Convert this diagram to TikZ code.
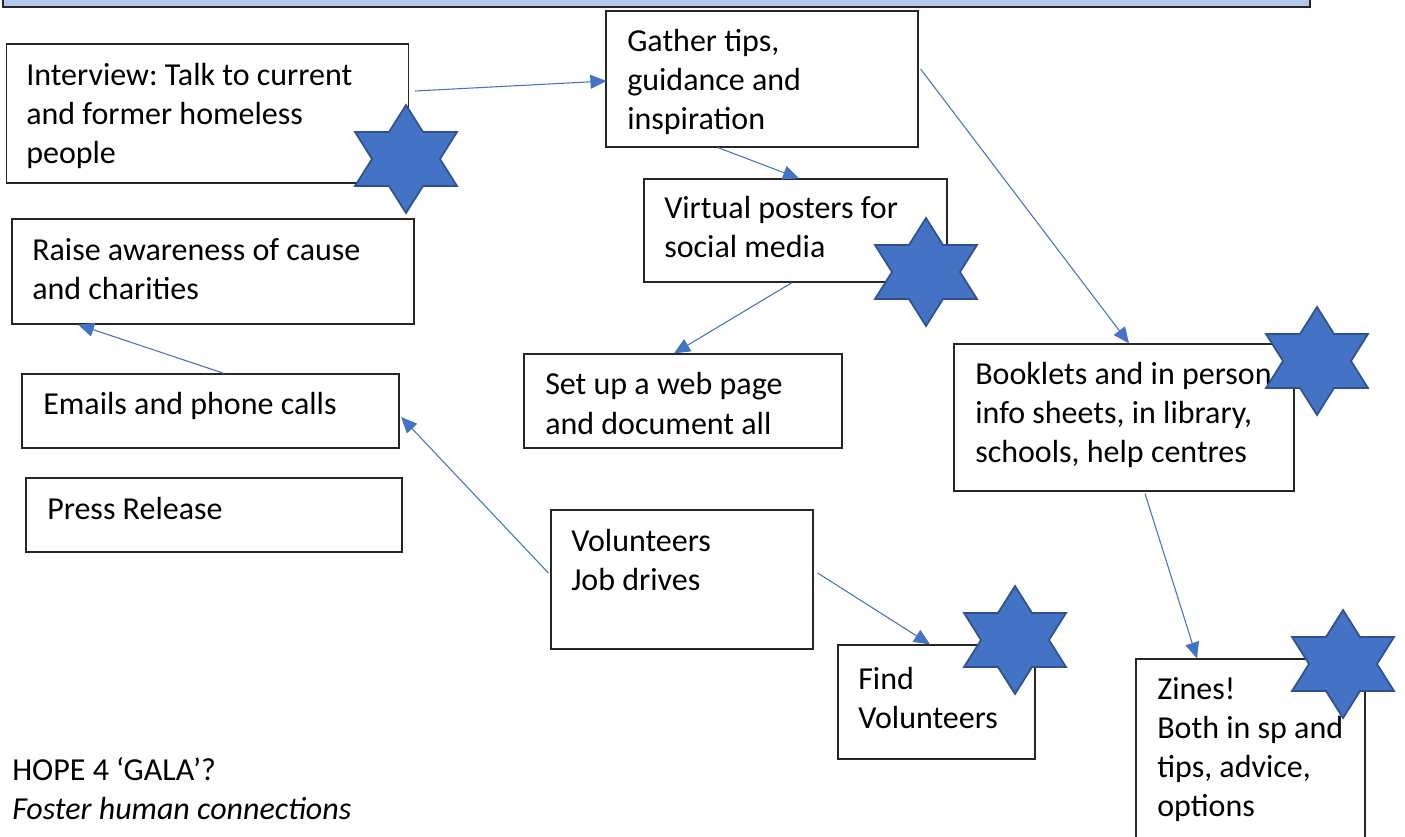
\documentclass[tikz,border=0pt]{standalone}
\usepackage{fontspec}
\setmainfont{Carlito}
\usetikzlibrary{arrows.meta}
\definecolor{starblue}{HTML}{4472C4}
\definecolor{stardark}{HTML}{2F528F}
\definecolor{barfill}{HTML}{B4C7E7}
\frenchspacing
\begin{document}
\begin{tikzpicture}[x=0.75pt,y=-0.75pt,
  box/.style={draw=black!85,line width=0.9pt,inner sep=0pt,rectangle},
  txt/.style={anchor=base west,inner sep=0pt,align=left,font=\fontsize{24pt}{29.25pt}\selectfont},
  arr/.style={draw=starblue,line width=0.8pt,-{Triangle[length=12pt,width=10.5pt]}},
  hexstar/.pic={\draw[fill=starblue,draw=stardark,line width=1.3pt,xscale=1.09]
    (90:54)--(120:31.2)--(150:54)--(180:31.2)--(210:54)--(240:31.2)--(270:54)--(300:31.2)--(330:54)--(0:31.2)--(30:54)--(60:31.2)--cycle;}]
\useasboundingbox (0,0) rectangle (1405,837);
\begin{scope}
\clip (0,0) rectangle (1405,837);
% top bar
\draw[fill=barfill,draw=black!85,line width=1.5pt] (3,-20) rectangle (1310,7);
% boxes
\node[box,minimum width=301.5pt,minimum height=104.25pt] (interview) at (207.5,113.5) {};
\node[box,minimum width=234pt,minimum height=102pt] (gather) at (762,79) {};
\node[box,minimum width=301.5pt,minimum height=78.75pt] (raise) at (213,271.5) {};
\node[box,minimum width=227.25pt,minimum height=77.25pt] (virtual) at (795.5,230.5) {};
\node[box,minimum width=238.5pt,minimum height=70.5pt] (web) at (683,401) {};
\node[box,minimum width=255pt,minimum height=110.25pt] (booklets) at (1124,417.5) {};
\node[box,minimum width=282.75pt,minimum height=55.5pt] (emails) at (210.5,411) {};
\node[box,minimum width=282pt,minimum height=55.5pt] (press) at (214,515) {};
\node[box,minimum width=196.5pt,minimum height=104.25pt] (volunteers) at (682,579.5) {};
\node[box,minimum width=147.75pt,minimum height=85.5pt] (find) at (936.5,702) {};
\node[box,minimum width=171.75pt,minimum height=158.25pt] (zines) at (1250.5,764.5) {};
% texts (anchored at the baseline of their last line)
\node[txt] (t-interview) at (26,164) {Interview: Talk to current\\and former homeless\\people};
\node[txt] (t-gather) at (627,130) {Gather tips,\\guidance and\\inspiration};
\node[txt] (t-raise) at (32,300) {Raise awareness of cause\\and charities};
\node[txt] (t-virtual) at (664,258) {Virtual posters for\\social media};
\node[txt] (t-web) at (545,434) {Set up a web page\\and document all};
\node[txt] (t-booklets) at (975,462) {Booklets and in person\\info sheets, in library,\\schools, help centres};
\node[txt] (t-emails) at (43,415) {Emails and phone calls};
\node[txt] (t-press) at (47,519) {Press Release};
\node[txt] (t-volunteers) at (571,590) {Volunteers\\Job drives};
\node[txt] (t-find) at (858,728) {Find\\Volunteers};
\node[txt] (t-zines) at (1157,816) {Zines!\\Both in sp and\\tips, advice,\\options};
\node[txt] (t-hope) at (12,819) {HOPE 4 ‘GALA’?\\\textit{Foster human connections}};
% connectors
\draw[arr] ([shift={(6,-22.5)}]interview.east) -- ([shift={(1,2)}]gather.west);
\draw[arr] ([shift={(-44,0)}]gather.south) -- ([shift={(3.5,0)}]virtual.north);
\draw[arr] ([shift={(2,-10)}]gather.east) -- ([shift={(5,0)}]booklets.north);
\draw[arr] ([shift={(-3.5,0)}]virtual.south) -- ([shift={(-9,0)}]web.north);
\draw[arr] ([shift={(13.5,0)}]emails.north) -- ([shift={(-135,0)}]raise.south);
\draw[arr] ([shift={(-2,-6.5)}]volunteers.west) -- ([shift={(1.5,6)}]emails.east);
\draw[arr] ([shift={(4,-6.5)}]volunteers.east) -- ([shift={(-6.5,0)}]find.north);
\draw[arr] ([shift={(21,2)}]booklets.south) -- ([shift={(-53.5,0)}]zines.north);
% stars
\pic at (406,159) {hexstar};
\pic at (926,272) {hexstar};
\pic at (1317,361) {hexstar};
\pic at (1015,640) {hexstar};
\pic at (1343,664) {hexstar};
\end{scope}
\end{tikzpicture}
\end{document}
